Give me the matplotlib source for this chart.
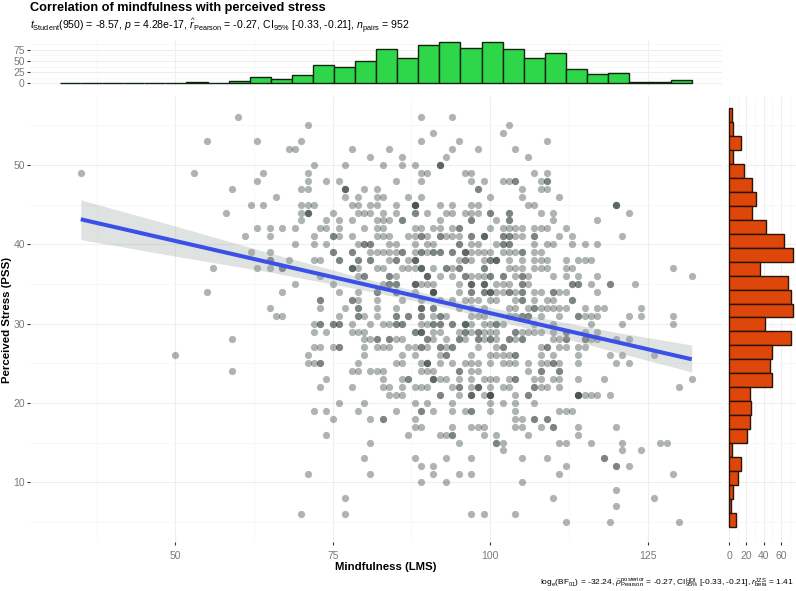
import numpy as np
import matplotlib
matplotlib.use('Agg')
import matplotlib.pyplot as plt

plt.rcParams['font.family'] = ['Liberation Sans', 'DejaVu Sans']
plt.rcParams['mathtext.fontset'] = 'custom'
plt.rcParams['mathtext.rm'] = 'Liberation Sans'
plt.rcParams['mathtext.it'] = 'Liberation Sans:italic'
plt.rcParams['mathtext.bf'] = 'Liberation Sans:bold'

# scatter: one list of LMS scores per PSS level, repeats are overlapping people
pss_levels = [56, 55, 54, 53, 52, 51, 50, 49, 48, 47, 46, 45, 44, 43, 42, 41, 40, 39, 38, 37, 36, 35, 34, 33, 32, 31,
              30, 29, 28, 27, 26, 25, 24, 23, 22, 21, 20, 19, 18, 17, 16, 15, 14, 13, 12, 11, 10, 9, 8, 7, 6, 5]
lms_by_level = [
    [60, 89, 94],
    [71, 103],
    [91, 102],
    [55, 63, 70, 89, 95, 109],
    [68, 69, 78, 84, 94, 98, 104],
    [81, 86, 93, 106],
    [72, 77, 83, 86, 88, 92, 92, 92],
    [35, 53, 64, 71, 89, 90, 96, 97, 107, 109],
    [63, 71, 74, 76, 85, 89, 97, 99, 102, 103, 104, 104, 108, 109, 109],
    [59, 70, 71, 77, 77, 77, 80, 82, 98, 98, 105, 108, 109],
    [66, 77, 79, 82, 83, 87, 89, 100, 105, 111],
    [62, 64, 70, 71, 72, 78, 79, 81, 82, 85, 88, 88, 88, 88, 92, 94, 97, 98, 106, 107, 120, 120, 120],
    [58, 70, 71, 71, 71, 75, 79, 80, 81, 83, 85, 88, 88, 90, 93, 94, 96, 97, 98, 100, 100, 103, 103, 108, 110, 122],
    [70, 74, 76, 78, 82, 83, 84, 86, 86, 92, 97, 97, 101, 103, 103, 110, 117],
    [63, 65, 67, 69, 73, 74, 76, 80, 82, 83, 88, 89, 91, 92, 94, 95, 95, 100, 102, 103, 104, 105, 107, 108, 109, 112],
    [61, 65, 72, 75, 75, 76, 78, 82, 83, 84, 87, 88, 89, 89, 90, 92, 92, 93, 94, 95, 97, 97, 99, 99, 99, 102, 102,
     103, 103, 104, 105, 107, 107, 111, 113, 121],
    [69, 72, 74, 79, 80, 80, 81, 81, 84, 85, 88, 90, 91, 95, 95, 97, 98, 101, 102, 102, 103, 103, 107, 109, 110, 113,
     115, 117],
    [62, 65, 75, 75, 78, 78, 81, 82, 83, 84, 85, 86, 86, 88, 89, 89, 90, 91, 91, 92, 92, 94, 94, 96, 96, 96, 97, 98,
     99, 100, 102, 103, 104, 105, 105, 107, 108],
    [65, 65, 68, 72, 73, 76, 76, 79, 79, 81, 81, 84, 85, 85, 87, 88, 88, 88, 95, 96, 96, 97, 99, 100, 100, 101, 101,
     101, 103, 105, 107, 108, 109, 112, 114, 115, 116],
    [56, 63, 65, 67, 67, 78, 78, 78, 79, 82, 83, 86, 87, 88, 89, 89, 89, 91, 93, 93, 94, 95, 95, 99, 99, 103, 104,
     105, 107, 108, 109, 112, 113, 129],
    [73, 79, 80, 80, 84, 84, 85, 90, 90, 90, 92, 94, 96, 96, 97, 98, 99, 100, 100, 102, 102, 104, 105, 105, 106, 110,
     112, 114, 117, 132],
    [69, 75, 83, 84, 84, 85, 85, 88, 88, 88, 89, 90, 91, 95, 97, 97, 97, 99, 99, 99, 101, 102, 103, 105, 105, 106,
     113, 113, 114, 114, 116, 119, 119, 123],
    [55, 67, 76, 79, 82, 82, 85, 85, 88, 91, 91, 91, 91, 95, 97, 97, 99, 99, 100, 100, 100, 101, 102, 103, 103, 104,
     105, 105, 107, 108, 110, 110, 111, 112, 117],
    [73, 73, 78, 78, 79, 82, 86, 89, 92, 94, 96, 97, 98, 100, 101, 104, 105, 105, 107, 109, 110, 113, 113],
    [65, 73, 77, 79, 79, 82, 85, 89, 89, 89, 91, 91, 95, 97, 99, 103, 104, 106, 107, 107, 108, 109, 110, 111, 112,
     115, 117, 118, 124],
    [66, 67, 76, 79, 79, 80, 82, 85, 85, 87, 87, 89, 89, 91, 92, 92, 93, 97, 98, 99, 103, 104, 105, 105, 106, 106,
     108, 111, 114, 114, 115, 116, 117, 122, 124, 129],
    [72, 73, 73, 75, 75, 76, 76, 78, 81, 83, 84, 85, 85, 86, 86, 89, 90, 91, 91, 92, 92, 94, 94, 96, 96, 96, 97, 99,
     100, 101, 101, 102, 107, 110, 116, 121, 129],
    [72, 74, 78, 79, 80, 88, 88, 89, 89, 89, 91, 92, 95, 96, 96, 97, 98, 98, 99, 100, 101, 104, 104, 105, 106, 107,
     108, 110, 112, 112, 115, 117],
    [59, 80, 81, 82, 82, 84, 84, 85, 86, 90, 90, 91, 93, 95, 95, 96, 98, 98, 99, 100, 100, 101, 103, 103, 104, 105,
     105, 110, 111, 112, 112, 115, 115, 116, 117, 120, 122],
    [72, 73, 75, 76, 76, 80, 82, 83, 84, 87, 88, 89, 89, 90, 92, 92, 93, 94, 94, 98, 101, 102, 102, 108, 109, 109,
     111, 112, 114, 115],
    [50, 71, 80, 86, 88, 92, 93, 93, 97, 100, 101, 102, 103, 104, 104, 108, 110, 114, 119, 121, 126],
    [71, 72, 73, 73, 79, 85, 86, 89, 90, 90, 90, 92, 94, 96, 97, 98, 100, 102, 103, 104, 106, 108, 109, 110, 110,
     111, 114, 120, 122],
    [59, 78, 79, 81, 82, 83, 89, 90, 91, 95, 95, 97, 98, 106, 108, 108, 111, 111],
    [74, 83, 86, 87, 87, 91, 91, 91, 92, 93, 95, 97, 99, 100, 101, 103, 104, 104, 107, 108, 110, 111, 114, 118, 132],
    [73, 78, 83, 84, 86, 88, 89, 90, 94, 95, 95, 97, 98, 98, 98, 100, 102, 103, 107, 107, 108, 109, 111, 130],
    [84, 85, 86, 92, 92, 95, 97, 97, 97, 99, 100, 100, 100, 100, 104, 106, 106, 114, 114, 114, 114, 115, 116, 117, 119],
    [76, 80, 88, 90, 94, 100, 102, 104, 107],
    [72, 74, 79, 85, 89, 89, 91, 94, 96, 97, 97, 100, 104, 111, 112, 113],
    [75, 81, 83, 83, 88, 104, 105, 107, 107, 109, 109],
    [88, 89, 94, 97, 98, 99, 104, 105, 108, 110, 110, 114, 120],
    [74, 87, 92, 93, 94, 94, 99, 101, 106, 114],
    [81, 95, 101, 101, 102, 111, 112, 116, 121, 127, 128],
    [102, 121, 124],
    [80, 88, 93, 97, 105, 109, 118, 118],
    [89, 91, 112, 120, 120, 122],
    [71, 81, 91, 95, 97, 111, 129],
    [89, 93, 105],
    [120],
    [77, 110, 126],
    [120],
    [70, 77, 97, 99, 104],
    [112, 119, 130],
]

# regression line and its band, read at a few places
fit_x = [35, 50, 65, 80, 92, 105, 120, 132]
fit_y = [43.15, 40.42, 37.69, 34.96, 32.78, 30.41, 27.68, 25.5]
fit_lo = [40.6, 38.5, 36.5, 34.2, 32.2, 29.6, 26.4, 23.9]
fit_hi = [45.6, 42.3, 38.9, 35.7, 33.4, 31.2, 28.9, 27.3]

# marginal histograms
top_counts = [2, 0.5, 0.3, 0.3, 0.5, 1.5, 3, 2, 5, 15, 9, 19, 41, 37, 50, 76.5, 56, 85.5, 93, 78, 91.5, 76, 56, 68.5,
              32, 21, 24, 3.7, 3.7, 8]
right_counts = [3.5, 4.6, 13.5, 4.6, 17, 27, 31, 26, 43, 63.5, 73.5, 36, 68, 72, 73.5, 41, 71.5, 50, 47, 49, 24, 25,
                24, 21, 3.5, 14, 10, 4.6, 2, 8.5]
top_edges = np.linspace(31.7, 132.1, 31)
right_edges = np.linspace(57.15, 4.39, 31)

x_ticks = [50, 75, 100, 125]
y_ticks = [10, 20, 30, 40, 50]
top_ticks = [0, 25, 50, 75]
right_ticks = [0, 20, 40, 60]

title = 'Correlation of mindfulness with perceived stress'
subtitle = (r'$\mathit{t}_{\mathrm{Student}}$(950) = -8.57, $\mathit{p}$ = 4.28e-17, '
            r'$\widehat{\mathit{r}}_{\mathrm{Pearson}}$ = -0.27, CI$_{95\%}$ [-0.33, -0.21], '
            r'$\mathit{n}_{\mathrm{pairs}}$ = 952')
caption = (r'log$_{\mathrm{e}}$(BF$_{01}$) = -32.24, '
           r'$\widehat{\rho}_{\mathrm{Pearson}}^{\mathrm{posterior}}$ = -0.27, '
           r'CI$_{95\%}^{\mathrm{HDI}}$ [-0.33, -0.21], '
           r'$\mathit{r}_{\mathrm{beta}}^{\mathrm{JZS}}$ = 1.41')

W, H = 796, 591
fig = plt.figure(figsize=(W/100, H/100), dpi=100, facecolor='white')

def panel(left, top, right, bottom):
    # axes from pixel box
    ax = fig.add_axes([left/W, 1-bottom/H, (right-left)/W, (bottom-top)/H])
    for s in ax.spines.values():
        s.set_visible(False)
    ax.set_axisbelow(True)
    ax.tick_params(length=2.2, width=0.8, color='#333333', labelcolor='#7a7a7a', labelsize=7.5, pad=1.5)
    return ax

def grid(ax, xmajor, xminor, ymajor, yminor):
    for v in xmajor:
        ax.axvline(v, color='#eeeeee', lw=0.8, zorder=0)
    for v in xminor:
        ax.axvline(v, color='#f6f6f6', lw=0.6, zorder=0)
    for v in ymajor:
        ax.axhline(v, color='#eeeeee', lw=0.8, zorder=0)
    for v in yminor:
        ax.axhline(v, color='#f6f6f6', lw=0.6, zorder=0)

x_minor = [37.5, 62.5, 87.5, 112.5]
y_minor = [5, 15, 25, 35, 45, 55]

#################################################
## main scatter
#################################################
ax = panel(30, 97, 722.4, 542)
ax.set_xlim(26.94, 136.87)
ax.set_ylim(2.46, 58.57)
grid(ax, x_ticks, x_minor, y_ticks, y_minor)

xs = np.concatenate([np.array(v, dtype=float) for v in lms_by_level])
ys = np.concatenate([np.full(len(v), float(p)) for p, v in zip(pss_levels, lms_by_level)])
ax.scatter(xs, ys, s=27, color='#2b3a35', alpha=0.38, linewidths=0, zorder=2)

ax.fill_between(fit_x, fit_lo, fit_hi, color='#9aa5a0', alpha=0.32, linewidth=0, zorder=3)
ax.plot(fit_x, fit_y, color='#3b50e6', lw=2.9, solid_capstyle='butt', zorder=4)

ax.set_xticks(x_ticks)
ax.set_yticks(y_ticks)
ax.tick_params(axis='x', pad=4.5)

#################################################
## top histogram
#################################################
ax_top = panel(30, 39.6, 722.4, 85.5)
ax_top.set_xlim(26.94, 136.87)
ax_top.set_ylim(-4.65, 97.65)
grid(ax_top, x_ticks, x_minor, top_ticks, [12.5, 37.5, 62.5, 87.5])
ax_top.bar(top_edges[:-1], top_counts, width=np.diff(top_edges), align='edge', color='#2ed64a',
           edgecolor='#10240f', linewidth=1.0, zorder=2)
ax_top.set_yticks(top_ticks)
ax_top.set_xticks([])

#################################################
## right histogram
#################################################
ax_right = panel(725.8, 97, 796, 542)
ax_right.set_xlim(-3.7, 77.2)
ax_right.set_ylim(2.46, 58.57)
grid(ax_right, right_ticks, [10, 30, 50, 70], y_ticks, y_minor)
ax_right.barh(right_edges[:-1], right_counts, height=np.diff(right_edges), align='edge', color='#de460a',
              edgecolor='#2a1408', linewidth=1.0, zorder=2)
ax_right.set_xticks(right_ticks)
ax_right.set_yticks([])
ax_right.tick_params(axis='x', pad=4.5)

#################################################
## text
#################################################
def put(px, py, s, **kw):
    fig.text(px/W, 1-py/H, s, **kw)

put(30, 8, title, fontsize=9.2, fontweight='bold', color='black', ha='left', va='center')
put(30, 26, subtitle, fontsize=7.55, color='black', ha='left', va='center')
put(386, 567, 'Mindfulness (LMS)', fontsize=8.2, fontweight='bold', ha='center', va='center')
put(7, 320, 'Perceived Stress (PSS)', fontsize=8.2, fontweight='bold', rotation=90, ha='center', va='center')
put(794, 583, caption, fontsize=6.0, color='black', ha='right', va='center')

fig.savefig('out.png', dpi=100)
